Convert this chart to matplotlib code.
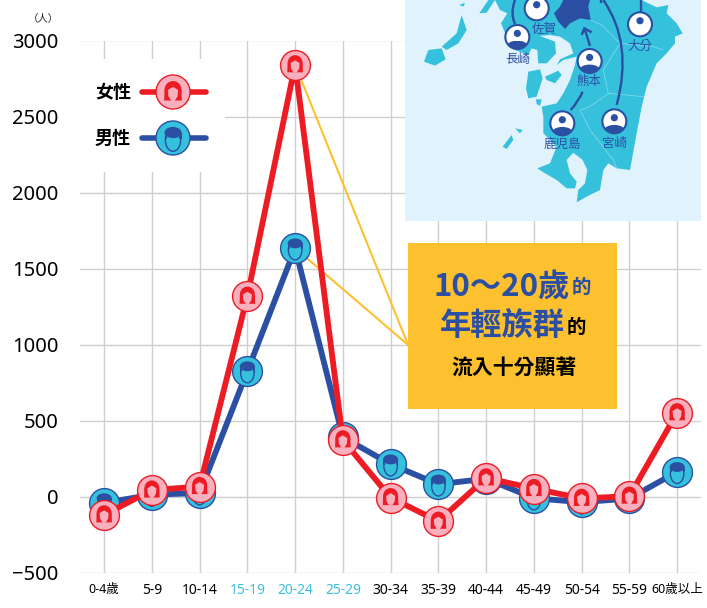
import matplotlib
matplotlib.use('Agg')
import matplotlib.pyplot as plt
from matplotlib.patches import Polygon, Circle, Ellipse, Rectangle, PathPatch
from matplotlib.path import Path
from matplotlib.transforms import Affine2D

plt.rcParams['font.family'] = ['Noto Sans', 'Noto Sans CJK TC', 'DejaVu Sans']

# Values
ages = ['0-4歲', '5-9', '10-14', '15-19', '20-24', '25-29', '30-34', '35-39',
        '40-44', '45-49', '50-54', '55-59', '60歲以上']
female = [-118, 45, 68, 1319, 2840, 375, -5, -160, 125, 55, -10, 5, 553]
male = [-40, 15, 25, 827, 1635, 393, 215, 83, 120, -8, -35, -10, 165]
y_ticks = [-500, 0, 500, 1000, 1500, 2000, 2500, 3000]
highlight_ages = ['15-19', '20-24', '25-29']

# Colours
RED = '#ed1c24'
PINK = '#f8afbe'
BLUE = '#2b4fa3'
CYAN = '#35c0dc'
YELLOW = '#fdc02f'
SEA = '#e0f3fc'
GRID = '#cfcfcf'
CJK = ['Noto Sans CJK TC', 'DejaVu Sans']

W, H = 707, 608
fig = plt.figure(figsize=(W / 100, H / 100), dpi=100)
ax = fig.add_axes([80.25 / W, 1 - 573 / H, 620.75 / W, 532.5 / H])
ax.set_xlim(-0.5, 12.5)
ax.set_ylim(-500, 3000)
for s in ax.spines.values():
    s.set_visible(False)
ax.set_xticks(range(len(ages)))
ax.set_xticklabels(ages)
ax.set_yticks(y_ticks)
ax.tick_params(axis='both', length=0)
ax.tick_params(axis='y', labelsize=14.5, pad=15.5)
ax.tick_params(axis='x', labelsize=10, pad=7)
ax.grid(True, color=GRID, lw=1.0)
ax.set_axisbelow(True)
for lab in ax.get_xticklabels():
    if lab.get_text() in highlight_ages:
        lab.set_color('#3dbfdc')
    if '歲' in lab.get_text():
        lab.set_fontsize(9)

# page = pixel coordinates of the image, y going down
page = Affine2D().scale(1, -1).translate(0, H) + fig.dpi_scale_trans.inverted() + fig.dpi_scale_trans
mapz = Affine2D().scale(1 / 3, 1 / 3).translate(400, 0) + page


def icon_trans(px, py, r):
    return Affine2D().scale(r, -r).translate(px, py)


def add(p, tr, z):
    p.set_transform(tr)
    p.set_clip_on(False)
    p.set_zorder(z)
    ax.add_patch(p)
    return p


def female_face(px, py, r, z):
    tr = icon_trans(px, py, r)
    add(Ellipse((0, -0.12), 1.0, 1.05, fc=RED, ec='none'), tr, z)
    add(Polygon([(-0.5, -0.1), (0.5, -0.1), (0.52, 0.5), (-0.52, 0.5)], fc=RED, ec='none'), tr, z)
    add(Polygon([(-0.3, -0.12), (0, -0.3), (0.3, -0.12), (0.27, 0.25), (0.1, 0.52),
                 (-0.1, 0.52), (-0.27, 0.25)], fc=PINK, ec='none'), tr, z + 0.01)


def male_face(px, py, r, z):
    tr = icon_trans(px, py, r)
    add(Ellipse((0, 0.12), 0.9, 1.32, fc=CYAN, ec=BLUE, lw=1.0), tr, z)
    add(Ellipse((0, -0.32), 1.0, 0.66, fc=BLUE, ec='none'), tr, z + 0.01)
    add(Rectangle((-0.5, -0.32), 0.14, 0.35, fc=BLUE, ec='none'), tr, z + 0.01)
    add(Rectangle((0.36, -0.32), 0.14, 0.35, fc=BLUE, ec='none'), tr, z + 0.01)


# Background blocks over the grid
add(Rectangle((80, 59), 145, 113, fc='white', ec='none'), page, 1.5)
map_rect = add(Rectangle((405, 0), 296, 221, fc=SEA, ec='none'), page, 1.6)

# Kyushu (crop coordinates)
main_land = [(285, 0), (725, 0), (770, 22), (805, 15), (800, 40), (830, 70), (848, 100), (825, 110),
             (825, 130), (800, 160), (770, 190), (755, 225), (740, 260), (725, 320), (710, 400),
             (690, 510), (650, 505), (625, 490), (610, 510), (605, 540), (600, 570), (560, 590),
             (530, 607), (535, 570), (555, 550), (562, 510), (548, 480), (520, 458), (500, 480),
             (510, 520), (530, 545), (525, 565), (500, 565), (470, 540), (432, 518), (412, 505),
             (450, 490), (470, 440), (430, 400), (430, 350), (425, 320), (470, 310), (490, 280),
             (510, 240), (525, 195), (530, 170), (490, 180), (470, 195), (480, 178), (520, 160),
             (510, 130), (480, 110), (450, 105), (420, 108), (465, 125), (468, 160), (440, 190),
             (415, 190), (412, 150), (395, 145), (385, 165), (345, 150), (320, 110), (303, 70),
             (322, 40), (300, 30)]
islands = [
    [(385, 215), (420, 208), (428, 235), (410, 290), (385, 295), (378, 265)],
    [(435, 230), (475, 212), (485, 225), (465, 250), (440, 240)],
    [(408, 298), (425, 298), (420, 318), (410, 312)],
    [(72, 185), (85, 150), (125, 145), (137, 178), (105, 197)],
    [(125, 140), (170, 100), (185, 45), (200, 90), (175, 130), (140, 150)],
    [(308, 440), (335, 405), (340, 420), (320, 447)],
    [(345, 385), (368, 390), (360, 400)],
    [(178, 15), (195, 8), (190, 20)],
    [(238, 40), (265, 0), (285, 0), (260, 38)],
]
fukuoka = [(490, 0), (570, 0), (565, 20), (572, 60), (540, 55), (510, 70), (495, 87), (475, 65),
           (462, 40), (480, 20)]

add(Polygon(main_land, fc=CYAN, ec='none'), mapz, 1.7)
for isl in islands:
    add(Polygon(isl, fc=CYAN, ec='none'), mapz, 1.7)
add(Polygon(fukuoka, fc=BLUE, ec='none'), mapz, 1.75)

# prefecture borders
borders = [[(572, 60), (605, 75), (660, 130), (610, 210), (625, 280), (570, 320), (540, 330)],
           [(540, 330), (570, 390), (640, 480), (650, 505)],
           [(660, 130), (760, 140), (790, 150)],
           [(625, 280), (730, 290)]]
for b in borders:
    add(PathPatch(Path(b), fc='none', ec='#8fdcec', lw=0.5), mapz, 1.72)

# Migration arrows on the map
arrows = [
    Path([(345, 72), (330, 40), (345, 0)], [Path.MOVETO, Path.CURVE3, Path.CURVE3]),
    Path([(570, 138), (562, 110), (553, 85)], [Path.MOVETO, Path.CURVE3, Path.CURVE3]),
    Path([(545, 105), (553, 85), (575, 97)], [Path.MOVETO, Path.LINETO, Path.LINETO]),
    Path([(512, 330), (535, 305), (548, 275)], [Path.MOVETO, Path.CURVE3, Path.CURVE3]),
    Path([(650, 315), (700, 130), (610, 0)], [Path.MOVETO, Path.CURVE3, Path.CURVE3]),
    Path([(722, 35), (722, 0)], [Path.MOVETO, Path.LINETO]),
    Path([(602, 10), (602, 0)], [Path.MOVETO, Path.LINETO]),
]
for a in arrows:
    add(PathPatch(a, fc='none', ec=BLUE, lw=1.7), mapz, 1.8)

# Prefecture markers: label, centre x, centre y, label y (crop coordinates)
prefs = [('佐賀', 410, 25, 433, 87), ('長崎', 352, 111, 352, 178), ('大分', 720, 73, 720, 138),
         ('熊本', 569, 183, 566, 245), ('鹿児島', 487, 370, 488, 435), ('宮崎', 643, 364, 643, 432)]
for name, cx, cy, lx, ly in prefs:
    px, py = 400 + cx / 3, H - cy / 3
    tr = icon_trans(px, py, 12)
    add(Circle((0, 0), 1, fc='white', ec=BLUE, lw=1.5), tr, 1.9)
    add(Circle((0, -0.3), 0.3, fc=BLUE, ec='none'), tr, 1.91)
    clip = add(Circle((0, 0), 1, fc='none', ec='none'), tr, 1.9)
    sh = add(Ellipse((0, 0.75), 1.7, 0.9, fc=BLUE, ec='none'), tr, 1.91)
    sh.set_clip_on(True)
    sh.set_clip_path(clip)
    ax.text(lx, ly, name, transform=mapz, fontsize=9, color=BLUE, ha='center', va='center',
            family=CJK, zorder=2, clip_on=False)

# Yellow callout
add(Rectangle((408, 243), 209, 166, fc=YELLOW, ec='none'), page, 2)
x_mid = ages.index('20-24')
for val in (female[x_mid], male[x_mid]):
    ax.plot([x_mid, 4 + (408 - 295) / 47.75], [val, (497 - 345) / 0.1522], color=YELLOW, lw=1.5,
            zorder=2.1, clip_on=False)

ax.text(434, 287, '10～20歲', transform=page, fontsize=22.5, fontweight='bold', color=BLUE,
        ha='left', va='center', family=CJK, zorder=3)
ax.text(572, 287, '的', transform=page, fontsize=14, fontweight='bold', color=BLUE,
        ha='left', va='center', family=CJK, zorder=3)
ax.text(440, 327, '年輕族群', transform=page, fontsize=22.5, fontweight='bold', color=BLUE,
        ha='left', va='center', family=CJK, zorder=3)
ax.text(567, 327, '的', transform=page, fontsize=14, fontweight='bold', color='black',
        ha='left', va='center', family=CJK, zorder=3)
ax.text(513.5, 368, '流入十分顯著', transform=page, fontsize=15, fontweight='bold', color='black',
        ha='center', va='center', family=CJK, zorder=3)

# Series
x = list(range(len(ages)))
ax.plot(x, male, color=BLUE, lw=4.2, marker='o', ms=21.5, mfc=CYAN, mec=BLUE, mew=1.0,
        solid_capstyle='round', zorder=4, clip_on=False)
for i, v in zip(x, male):
    px, py = ax.transData.transform((i, v))
    male_face(px, py, 15, 4.1)
ax.plot(x, female, color=RED, lw=4.2, marker='o', ms=21.5, mfc=PINK, mec=RED, mew=1.0,
        solid_capstyle='round', zorder=5, clip_on=False)
for i, v in zip(x, female):
    px, py = ax.transData.transform((i, v))
    female_face(px, py, 15, 5.1)

# Legend
for name, yy, col, fc, face in [('女性', 92, RED, PINK, female_face), ('男性', 138, BLUE, CYAN, male_face)]:
    ax.plot([142, 206], [yy, yy], transform=page, color=col, lw=4, solid_capstyle='round',
            zorder=6, clip_on=False)
    px, py = 173, H - yy
    add(Circle((0, 0), 17, fc=fc, ec=col, lw=1.0), Affine2D().translate(px, py), 6.1)
    face(px, py, 17, 6.2)
    ax.text(113, yy, name, transform=page, fontsize=13, fontweight='bold', color='black',
            ha='center', va='center', family=CJK, zorder=6)

ax.text(43, 19, '（人）', transform=page, fontsize=7.5, color='#222222', ha='center', va='center',
        family=CJK, zorder=6)

fig.savefig('out.png', dpi=100)
